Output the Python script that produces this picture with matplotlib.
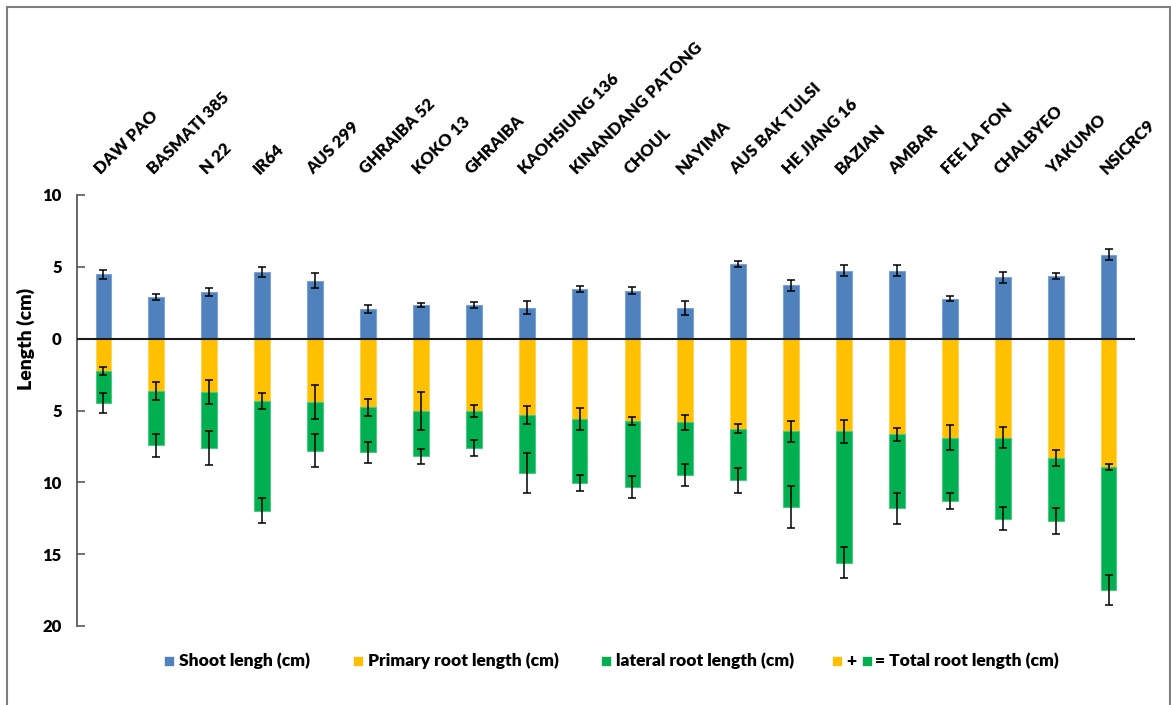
"""
Shoot and root lengths of rice varieties.

Shoot length is drawn upward from zero, primary and lateral root lengths are
stacked downward, so the full downward bar is the total root length.
"""

import numpy as np
import matplotlib.pyplot as plt
from matplotlib.patches import Rectangle
from matplotlib.ticker import FuncFormatter

plt.rcParams['font.family'] = ['Lato', 'DejaVu Sans']
plt.rcParams['font.weight'] = 'heavy'

varieties = [
    'DAW PAO', 'BASMATI 385', 'N 22', 'IR64', 'AUS 299', 'GHRAIBA 52',
    'KOKO 13', 'GHRAIBA', 'KAOHSIUNG 136', 'KINANDANG PATONG', 'CHOUL',
    'NAYIMA', 'AUS BAK TULSI', 'HE JIANG 16', 'BAZIAN', 'AMBAR',
    'FEE LA FON', 'CHALBYEO', 'YAKUMO', 'NSICRC9',
]

# lengths in cm, errors are +/- half ranges
shoot = [4.47, 2.91, 3.26, 4.66, 4.04, 2.06, 2.34, 2.34, 2.16, 3.48,
         3.34, 2.16, 5.20, 3.71, 4.73, 4.73, 2.79, 4.28, 4.37, 5.84]
shoot_err = [0.34, 0.23, 0.30, 0.35, 0.52, 0.30, 0.12, 0.24, 0.43, 0.20,
             0.23, 0.49, 0.20, 0.38, 0.38, 0.38, 0.17, 0.38, 0.20, 0.38]

primary = [2.27, 3.65, 3.74, 4.32, 4.41, 4.78, 5.03, 5.03, 5.31, 5.59,
           5.71, 5.82, 6.26, 6.45, 6.45, 6.66, 6.90, 6.90, 8.30, 8.92]
primary_err = [0.28, 0.65, 0.83, 0.55, 1.17, 0.59, 1.30, 0.43, 0.60, 0.77,
               0.29, 0.51, 0.29, 0.74, 0.80, 0.43, 0.87, 0.74, 0.57, 0.21]

lateral = [2.20, 3.78, 3.88, 7.65, 3.39, 3.11, 3.14, 2.58, 4.06, 4.43,
           4.61, 3.67, 3.60, 5.27, 9.14, 5.15, 4.43, 5.62, 4.40, 8.58]
total_err = [0.70, 0.78, 1.16, 0.87, 1.15, 0.73, 0.52, 0.59, 1.39, 0.56,
             0.75, 0.78, 0.88, 1.44, 1.10, 1.07, 0.56, 0.79, 0.88, 1.03]

BLUE = '#4F81BD'
YELLOW = '#FFC000'
GREEN = '#00B050'
W, H = 1171, 705


def add_legend_key(fig, x_px, color):
    fig.add_artist(Rectangle((x_px / W, 1 - 666 / H), 10 / W, 10 / H,
                             transform=fig.transFigure, facecolor=color,
                             edgecolor='white', linewidth=0.5))


def add_legend_text(fig, x_px, text):
    fig.text(x_px / W, 1 - 661 / H, text, ha='left', va='center',
             fontsize=12.5, fontweight='heavy')


fig = plt.figure(figsize=(W / 100, H / 100), dpi=100)
ax = fig.add_axes([77 / W, 1 - 626 / H, (1135 - 77) / W, (626 - 195) / H])

x = np.arange(len(varieties))
shoot = np.array(shoot)
primary = np.array(primary)
lateral = np.array(lateral)
width = 0.3

ax.bar(x, shoot, width, color=BLUE, edgecolor='#7EA3D2', linewidth=0.8, zorder=2)
ax.bar(x, -primary, width, color=YELLOW, edgecolor='#FFD45C', linewidth=0.8, zorder=2)
ax.bar(x, -lateral, width, bottom=-primary, color=GREEN,
       edgecolor='#4CC785', linewidth=0.8, zorder=2)

err_style = dict(fmt='none', ecolor='black', elinewidth=1.1, capsize=2.9,
                 capthick=1.1, zorder=4)
ax.errorbar(x, shoot, yerr=shoot_err, **err_style)
ax.errorbar(x, -primary, yerr=primary_err, **err_style)
ax.errorbar(x, -(primary + lateral), yerr=total_err, **err_style)

ax.axhline(0, color='#1a1a1a', linewidth=1.5, zorder=3)

ax.set_xlim(-0.5, len(varieties) - 0.5)
ax.set_ylim(-20, 10)
ax.set_yticks(np.arange(-20, 11, 5))
ax.yaxis.set_major_formatter(FuncFormatter(lambda v, _: f'{abs(v):g}'))
ax.tick_params(axis='y', direction='in', length=6, width=1.2, color='#595959',
               pad=11, labelsize=12)
for lab in ax.get_yticklabels():
    lab.set_fontweight('heavy')

ax.xaxis.tick_top()
ax.set_xticks(x)
ax.set_xticklabels(varieties, rotation=45, ha='left', va='bottom',
                   rotation_mode='anchor', fontsize=12, fontweight='heavy')
ax.tick_params(axis='x', length=0, pad=13)

for side in ('top', 'right', 'bottom'):
    ax.spines[side].set_visible(False)
ax.spines['left'].set_color('#595959')
ax.spines['left'].set_linewidth(1.3)

ax.set_ylabel('Length (cm)', fontsize=14, fontweight='heavy')
ax.yaxis.set_label_coords((35 - 77) / (1135 - 77), 20 / 30)

# legend row along the bottom
add_legend_key(fig, 164, BLUE)
add_legend_text(fig, 179, 'Shoot lengh (cm)')
add_legend_key(fig, 353, YELLOW)
add_legend_text(fig, 368, 'Primary root length (cm)')
add_legend_key(fig, 601, GREEN)
add_legend_text(fig, 616, 'lateral root length (cm)')
add_legend_key(fig, 832, YELLOW)
add_legend_text(fig, 846, '+')
add_legend_key(fig, 862, GREEN)
add_legend_text(fig, 875, '= Total root length (cm)')

# outer frame
fig.add_artist(Rectangle((6.5 / W, -0.01), (1170 - 6.5) / W, 1 - 7 / H + 0.01,
                         transform=fig.transFigure, fill=False,
                         edgecolor='#7f7f7f', linewidth=1.5))

fig.savefig('out.png', dpi=100)
